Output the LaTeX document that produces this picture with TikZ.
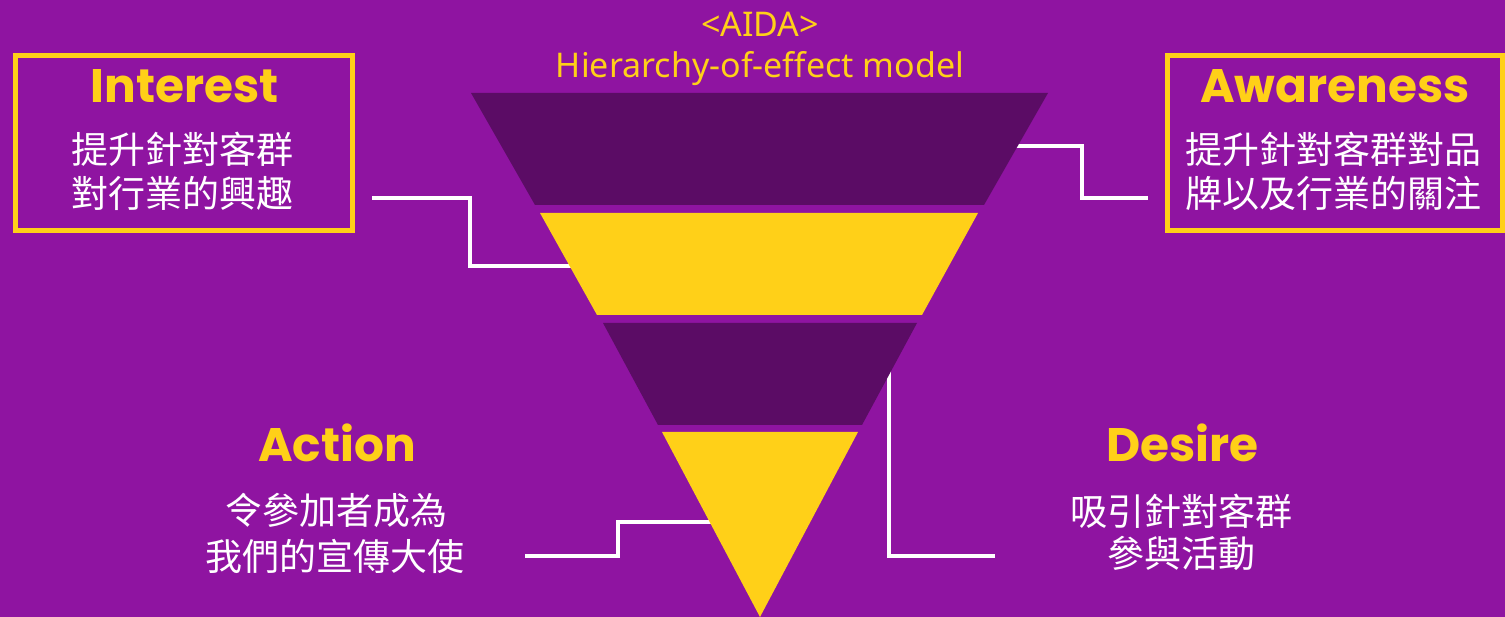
\documentclass[tikz,border=0pt]{standalone}
\usepackage{fontspec}
\newfontfamily\cjk{Noto Sans CJK TC}
\newfontfamily\headfont{Poppins}[BoldFont={Poppins Bold}]
\newfontfamily\titlefont{Noto Sans}
\definecolor{bgpurple}{RGB}{143,20,161}
\definecolor{darkband}{RGB}{91,12,101}
\definecolor{aidayellow}{RGB}{255,208,24}
\tikzset{
  headtxt/.style={text=aidayellow, font=\headfont\bfseries\fontsize{47}{52}\selectfont, anchor=base, inner sep=0pt},
  cjktxt/.style={text=white, font=\cjk\fontsize{37}{44}\selectfont, anchor=base, inner sep=0pt},
  titletxt/.style={text=aidayellow, font=\titlefont\fontsize{34}{40}\selectfont, anchor=base, inner sep=0pt},
  framebox/.style={draw=aidayellow, line width=5pt, inner sep=0pt},
  connector/.style={draw=white, line width=4.5pt, line join=miter},
}
\begin{document}
\begin{tikzpicture}[x=1pt,y=-1pt]
\useasboundingbox (0,0) rectangle (1505,617);
\fill[bgpurple] (0,0) rectangle (1505,617);

% connector points
\coordinate (i0) at (372,198);
\coordinate (i1) at (470,198);
\coordinate (i2) at (470,266);
\coordinate (i3) at (585,266);
\coordinate (a0) at (1148,198);
\coordinate (a1) at (1082,198);
\coordinate (a2) at (1082,146);
\coordinate (a3) at (1005,146);
\coordinate (d0) at (995,556);
\coordinate (d1) at (889,556);
\coordinate (d2) at (889,360);
\coordinate (c0) at (525,556);
\coordinate (c1) at (618,556);
\coordinate (c2) at (618,522);
\coordinate (c3) at (720,522);

\draw[connector] (i0) -- (i1) -- (i2) -- (i3);
\draw[connector] (a0) -- (a1) -- (a2) -- (a3);
\draw[connector] (d0) -- (d1) -- (d2);
\draw[connector] (c0) -- (c1) -- (c2) -- (c3);

% funnel
\fill[darkband] (471,93) -- (1048,93) -- (984,205) -- (535,205) -- cycle;
\fill[aidayellow] (540,213) -- (978,213) -- (922,315) -- (597,315) -- cycle;
\fill[darkband] (603,323) -- (917,323) -- (862,425) -- (658,425) -- cycle;
\fill[aidayellow] (662,432) -- (858,432) -- (760,617) -- cycle;

% title
\node[titletxt] (t1) at (760,37) {<AIDA>};
\node[titletxt] (t2) at (760,78) {Hierarchy-of-effect model};

% boxes
\node[framebox, minimum width=337pt, minimum height=175pt] (intbox) at (184,143) {};
\node[framebox, minimum width=335pt, minimum height=175pt] (awbox) at (1335,143) {};

% Interest
\node[headtxt] (inth) at (184.5,103) {Interest};
\node[cjktxt] (int1) at (182,164) {提升針對客群};
\node[cjktxt] (int2) at (182,208) {對行業的興趣};

% Awareness
\node[headtxt] (awh) at (1335,103) {Awareness};
\node[cjktxt] (aw1) at (1333,164) {提升針對客群對品};
\node[cjktxt] (aw2) at (1333,208) {牌以及行業的關注};

% Action
\node[headtxt] (ach) at (337,461) {Action};
\node[cjktxt] (ac1) at (336,524) {令參加者成為};
\node[cjktxt] (ac2) at (335,570) {我們的宣傳大使};

% Desire
\node[headtxt] (deh) at (1182.5,461) {Desire};
\node[cjktxt] (de1) at (1181,525) {吸引針對客群};
\node[cjktxt] (de2) at (1181,567) {參與活動};
\end{tikzpicture}
\end{document}
